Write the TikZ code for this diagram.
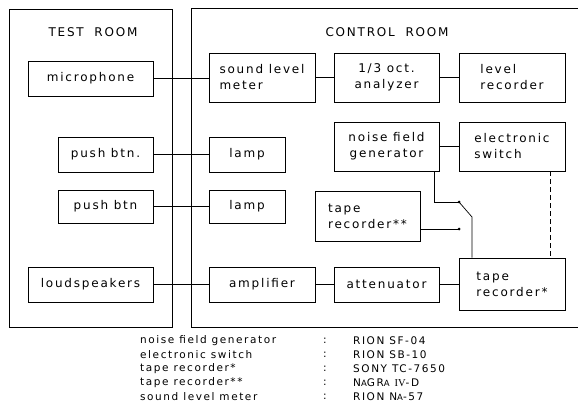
\documentclass[tikz,border=0pt]{standalone}
\usepackage{fontspec}
\setmainfont[LetterSpace=15]{DejaVu Sans}
\newfontfamily\serif{Liberation Serif}
\usetikzlibrary{calc}
\tikzset{
  box/.style={draw, line width=0.8pt, inner sep=0pt, align=left, font=\fontsize{12}{16}\selectfont},
  room/.style={draw, line width=0.7pt},
  conn/.style={line width=0.7pt},
  lbl/.style={inner sep=0pt, font=\fontsize{12}{14}\selectfont},
  leg/.style={inner sep=0pt, anchor=west, font=\fontsize{10.5}{13}\selectfont},
  pin/.style={circle, fill, inner sep=0pt, minimum size=3pt}
}
\begin{document}
\begin{tikzpicture}[x=1pt, y=-1pt]
\useasboundingbox (0,0) rectangle (578,415);
% rooms
\draw[room] (9,9) rectangle (172,327);
\draw[room] (580,8) -- (191,8) -- (191,327) -- (580,327);
\node[lbl] (troom) at (93,32) {TEST\hspace{5pt} ROOM};
\node[lbl] (croom) at (387,32) {CONTROL\hspace{5pt} ROOM};
% boxes
\node[box, minimum width=125pt, minimum height=35pt] (mic) at (90.5,78.5) {microphone};
\node[box, minimum width=106pt, minimum height=49pt] (slm) at (262,77.5) {sound level\\meter};
\node[box, minimum width=105pt, minimum height=49pt, align=center] (oct) at (386.5,77.5) {1/3 oct.\\analyzer};
\node[box, minimum width=106pt, minimum height=49pt] (lrec) at (512,77.5) {level\\recorder};
\node[box, minimum width=95pt, minimum height=35pt] (pb1) at (105.5,154.5) {push btn.};
\node[box, minimum width=76pt, minimum height=35pt] (lamp1) at (247,154.5) {lamp};
\node[box, minimum width=105pt, minimum height=49pt, align=center] (ngen) at (386.5,146.5) {noise field\\generator};
\node[box, minimum width=106pt, minimum height=49pt] (esw) at (512,146.5) {electronic\\switch};
\node[box, minimum width=95pt, minimum height=33pt] (pb2) at (105.5,206.5) {push btn};
\node[box, minimum width=76pt, minimum height=33pt] (lamp2) at (247,206.5) {lamp};
\node[box, minimum width=105pt, minimum height=50pt] (trecb) at (367.5,216) {tape\\recorder**};
\node[box, minimum width=125pt, minimum height=35pt] (ls) at (90.5,284.5) {loudspeakers};
\node[box, minimum width=106pt, minimum height=35pt] (amp) at (262,284.5) {amplifier};
\node[box, minimum width=105pt, minimum height=35pt] (att) at (386.5,284.5) {attenuator};
\node[box, minimum width=106pt, minimum height=52pt] (treca) at (512,284) {tape\\recorder*};
% connectors
\draw[conn] (mic.east) -- (mic.east -| slm.west);
\draw[conn] (slm.east) -- (oct.west);
\draw[conn] (oct.east) -- (lrec.west);
\draw[conn] (pb1.east) -- (lamp1.west);
\draw[conn] (pb2.east) -- (lamp2.west);
\draw[conn] (ngen.east) -- (esw.west);
\draw[conn] (ls.east) -- (amp.west);
\draw[conn] (amp.east) -- (att.west);
\draw[conn] (att.east) -- (att.east -| treca.west);
% switch
\coordinate (s1) at (459,202);
\coordinate (s2) at (459,229);
\coordinate (pv) at (472,217);
\coordinate (ng) at ($(ngen.south east)+(-5,0)$);
\coordinate (es) at ($(esw.south east)+(-15,0)$);
\draw[conn] (ng) |- (s1);
\draw[conn] (trecb.east |- s2) -- (s2);
\draw[conn] (s1) -- (pv) -- (pv |- treca.north);
\node[pin] (p1) at (s1) {};
\node[pin] (p2) at (s2) {};
\draw[conn, dashed, dash pattern=on 5pt off 3pt] (es) -- (es |- treca.north);
% legend
\node[leg] (l1) at (140,341) {noise field generator};
\node[leg] (l2) at (140,355) {electronic switch};
\node[leg] (l3) at (140,369) {tape recorder*};
\node[leg] (l4) at (140,383) {tape recorder**};
\node[leg] (l5) at (140,397) {sound level meter};
\node[leg] (c1) at (323,341) {:};
\node[leg] (c2) at (323,355) {:};
\node[leg] (c3) at (323,369) {:};
\node[leg] (c4) at (323,383) {:};
\node[leg] (c5) at (323,397) {:};
\node[leg] (v1) at (353,341) {RION SF-04};
\node[leg] (v2) at (353,355) {RION SB-10};
\node[leg] (v3) at (353,369) {SONY TC-7650};
\node[leg] (v4) at (353,383) {N{\fontsize{8.5}{10}\selectfont A}GR{\fontsize{8.5}{10}\selectfont A} {\serif IV}-D};
\node[leg] (v5) at (353,397) {RION N{\fontsize{8.5}{10}\selectfont A}-57};
\end{tikzpicture}
\end{document}
